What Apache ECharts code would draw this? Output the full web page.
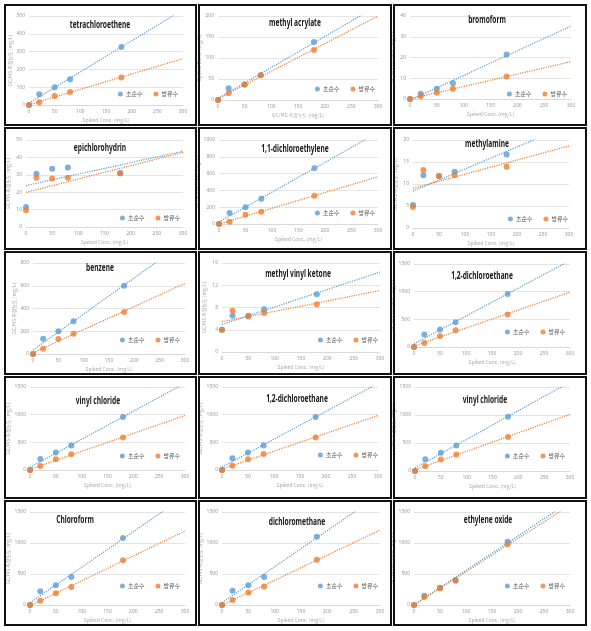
<!DOCTYPE html>
<html><head><meta charset="utf-8">
<script src="https://cdn.jsdelivr.net/npm/echarts@6/dist/echarts.min.js"></script>
<style>html,body{margin:0;padding:0;background:#fff}#c{width:591px;height:631px}</style>
</head><body><div id="c"></div><script>
// ---------- data ----------
const xConc = [0, 20, 50, 80, 180];
const xTicks = [0, 50, 100, 150, 200, 250, 300];
const titles = ['tetrachloroethene','methyl acrylate','bromoform','epichlorohydrin','1,1-dichloroethylene','methylamine','benzene','methyl vinyl ketone','1,2-dichloroethane','vinyl chloride','1,2-dichloroethane','vinyl chloride','Chloroform','dichloromethane','ethylene oxide'];
const yTickMax  = [500, 200, 40, 50, 1000, 20, 800, 16, 1500, 1500, 1500, 1500, 1500, 1500, 1500];
const yTickStep = [100, 50, 10, 10, 200, 5, 200, 4, 500, 500, 500, 500, 500, 500, 500];
const seriesNames = ['초순수', '방류수'];
const ultraPure = [
  [0, 60, 100, 145, 326],
  [0, 28, 37, 59, 138],
  [0, 2.5, 4.9, 7.6, 21.5],
  [11.5, 30.6, 33.5, 34.2, 31],
  [0, 130, 200, 300, 664],
  [5.2, 12.0, 11.8, 12.8, 16.7],
  [0, 135, 200, 287, 601],
  [4.0, 6.5, 6.5, 7.7, 10.4],
  [0, 224, 315, 448, 956],
  [0, 200, 315, 442, 956],
  [0, 212, 315, 442, 956],
  [0, 212, 327, 454, 968],
  [0, 220, 320, 450, 1080],
  [0, 230, 320, 450, 1100],
  [0, 150, 280, 400, 1020]
];
const effluent = [
  [0, 15, 50, 73, 155],
  [0, 16, 37, 59, 119],
  [0, 1.3, 3.0, 4.9, 10.8],
  [9.6, 28.3, 27.9, 28.3, 30.8],
  [0, 28, 110, 146, 336],
  [4.8, 13.2, 11.8, 12.0, 13.9],
  [0, 47, 132, 179, 370],
  [4.0, 7.4, 6.4, 7.0, 8.6],
  [0, 73, 200, 302, 587],
  [0, 73, 194, 284, 587],
  [0, 79, 194, 290, 587],
  [0, 85, 206, 296, 605],
  [0, 70, 190, 290, 720],
  [0, 80, 200, 300, 730],
  [0, 130, 270, 390, 980]
];
const xNames = ['Spiked Conc. (mg/L)','GC/MS 측정농도 (mg/L)','Spiked Conc. (mg/L)','Spiked Conc. (mg/L)','Spiked Conc. (mg/L)','Spiked Conc. (mg/L)','Spiked Conc. (mg/L)','Spiked Conc. (mg/L)','Spiked Conc. (mg/L)','Spiked Conc. (mg/L)','Spiked Conc. (mg/L)','Spiked Conc. (mg/L)','Spiked Conc. (mg/L)','Spiked Conc. (mg/L)','Spiked Conc. (mg/L)'];
const yNames = ['GC/MS 측정농도 (mg/L)','Spiked Conc. (mg/L)','GC/MS 측정농도 (mg/L)','GC/MS 측정농도 (mg/L)','GC/MS 측정농도 (mg/L)','GC/MS 측정농도 (mg/L)','GC/MS 측정농도 (mg/L)','GC/MS 측정농도 (mg/L)','GC/MS 측정농도 (mg/L)','GC/MS 측정농도 (mg/L)','GC/MS 측정농도 (mg/L)','GC/MS 측정농도 (mg/L)','GC/MS 측정농도 (mg/L)','GC/MS 측정농도 (mg/L)','GC/MS 측정농도 (mg/L)'];

// ---------- layout ----------
const plotBoxes = [
 [29,16,183,105],[218,16,378,100],[410,16,571,99],
 [26,140,183,227],[219,140,378,224],[413,140,569,228],
 [33,263,185,354],[222,263,380,352],[414,264,570,347],
 [30,387,185,470],[222,387,378,470],[415,387,570,471],
 [30,512,185,605],[222,512,380,605],[414,512,570,605]
];
const titlePos = [[100,25],[295,23],[487,20],[100,148],[295,149],[487,144],[100,268],[298,274],[482,276],[98,401],[297,399],[485,400],[75,520],[297,522],[488,520]];
const legendPos = [[178,95],[375,90],[567,95],[180,219],[375,214],[568,220],[180,341],[378,341],[565,333],[180,457],[378,456],[565,457],[180,587],[378,587],[565,587]];
const colX = [[5,196],[199,391],[394,586]];
const rowY = [[5,125],[128,249],[252,374],[377,498],[501,625]];

const BLUE = '#5B9BD5', ORANGE = '#ED7D31';

function trend(xs, ys) {
  const n = xs.length;
  const mx = xs.reduce((a,b)=>a+b,0)/n, my = ys.reduce((a,b)=>a+b,0)/n;
  let sxx = 0, sxy = 0;
  for (let i=0;i<n;i++){ sxx += (xs[i]-mx)*(xs[i]-mx); sxy += (xs[i]-mx)*(ys[i]-my); }
  const m = sxy/sxx, b = my - m*mx;
  const x1 = xTicks[xTicks.length-1];
  return [[0, b], [x1, b + m*x1]];
}
const plain = v => String(v);

const grid = [], xAxis = [], yAxis = [], series = [], legend = [], graphic = [];
for (let i=0;i<15;i++){
  const [l,t,r,bt] = plotBoxes[i];
  grid.push({left:l, top:t, width:r-l, height:bt-t, containLabel:false});
  xAxis.push({type:'value', gridIndex:i, min:xTicks[0], max:xTicks[xTicks.length-1], interval:xTicks[1]-xTicks[0],
    axisLine:{show:true, lineStyle:{color:'#d9d9d9'}}, axisTick:{show:false}, splitLine:{show:false},
    axisLabel:{fontSize:5, color:'#9a9a9a', margin:4, fontFamily:'Noto Sans', formatter:plain},
    name:xNames[i], nameLocation:'middle', nameGap:13, nameTextStyle:{fontSize:5, color:'#a8a8a8', fontFamily:'Noto Sans CJK KR'}});
  yAxis.push({type:'value', gridIndex:i, min:0, max:yTickMax[i], interval:yTickStep[i],
    axisLine:{show:false}, axisTick:{show:false}, splitLine:{lineStyle:{color:'#e4e4e4', width:1}},
    axisLabel:{fontSize:5, color:'#9a9a9a', margin:4, fontFamily:'Noto Sans', formatter:plain},
    name:yNames[i], nameLocation:'middle', nameRotate:90, nameGap:15, nameTextStyle:{fontSize:5, color:'#a8a8a8', fontFamily:'Noto Sans CJK KR'}});
  series.push({type:'line', name:'trend-u-'+i, xAxisIndex:i, yAxisIndex:i, data:trend(xConc, ultraPure[i]), symbol:'none', clip:true, silent:true,
    lineStyle:{color:BLUE, width:1.2, type:'dotted'}, z:2});
  series.push({type:'line', name:'trend-e-'+i, xAxisIndex:i, yAxisIndex:i, data:trend(xConc, effluent[i]), symbol:'none', clip:true, silent:true,
    lineStyle:{color:ORANGE, width:1.2, type:'dotted'}, z:2});
  series.push({type:'scatter', name:seriesNames[0], xAxisIndex:i, yAxisIndex:i, data:xConc.map((x,j)=>[x, ultraPure[i][j]]),
    symbolSize:6, itemStyle:{color:BLUE}, z:3});
  series.push({type:'scatter', name:seriesNames[1], xAxisIndex:i, yAxisIndex:i, data:xConc.map((x,j)=>[x, effluent[i][j]]),
    symbolSize:6, itemStyle:{color:ORANGE}, z:4});
  legend.push({data:seriesNames, right:591-legendPos[i][0], top:legendPos[i][1]-4, itemWidth:5, itemHeight:5, itemGap:11, icon:'circle',
    padding:0, selectedMode:false, textStyle:{fontSize:6, color:'#555', fontFamily:'Noto Sans CJK KR', padding:[0,0,0,-2]}});
  graphic.push({type:'text', x:titlePos[i][0], y:titlePos[i][1], scaleX:0.6, z:100,
    style:{text:titles[i], fontSize:11, fontWeight:'bold', fontFamily:'Noto Sans', fill:'#1a1a1a', textAlign:'center', textVerticalAlign:'middle', align:'center', verticalAlign:'middle'}});
  const c = colX[i%3], rw = rowY[Math.floor(i/3)];
  graphic.push({type:'rect', z:90, shape:{x:c[0], y:rw[0], width:c[1]-c[0], height:rw[1]-rw[0]},
    style:{fill:'none', stroke:'#111', lineWidth:2}});
}

const chart = echarts.init(document.getElementById('c'), null, {renderer:'canvas'});
chart.setOption({animation:false, backgroundColor:'#fff', grid, xAxis, yAxis, series, legend, graphic});
</script></body></html>
